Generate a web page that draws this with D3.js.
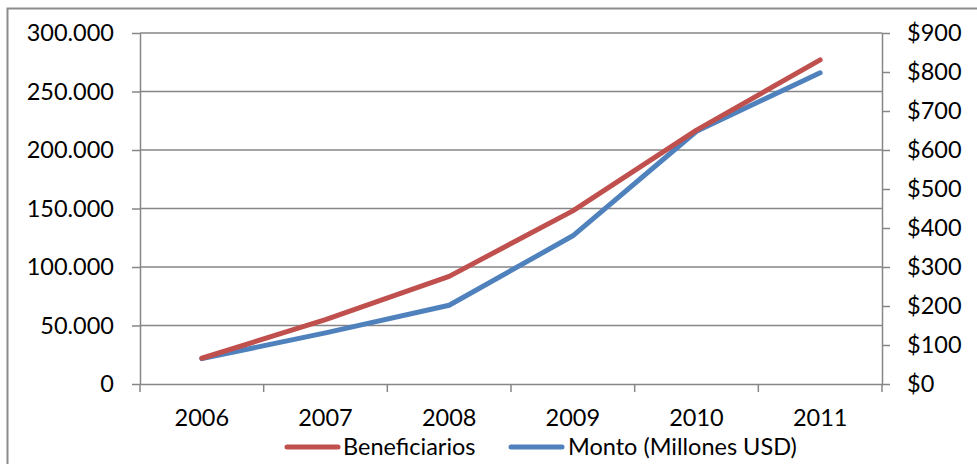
<!DOCTYPE html>
<html><head><meta charset="utf-8">
<script src="https://cdn.jsdelivr.net/npm/d3@7"></script>
<style>body{margin:0;background:#fff}svg{display:block}text{font-family:Lato,"Open Sans",sans-serif;fill:#000}</style>
</head><body><svg id="c" width="977" height="464"></svg>
<script>
const years = ["2006","2007","2008","2009","2010","2011"];
const beneficiarios = [22000, 55000, 92000, 148000, 217000, 277000];
const monto = [65, 131, 202, 380, 648, 798];
const leftTicks = [0,50000,100000,150000,200000,250000,300000];
const rightTicks = [0,100,200,300,400,500,600,700,800,900];
const seriesNames = ["Beneficiarios","Monto (Millones USD)"];
const colors = ["#C0504D","#4F81BD"];

const svg = d3.select("#c");
const L=140, R=882, T=33, B=384;
const FS = 23.5;
svg.append("rect").attr("x",7.5).attr("y",8.5).attr("width",1000).attr("height",500)
  .attr("fill","#fff").attr("stroke","#8c8c8c").attr("stroke-width",2);

const x = d3.scaleBand().domain(years).range([L,R]);
const yL = d3.scaleLinear().domain([0,300000]).range([B,T]);
const yR = d3.scaleLinear().domain([0,900]).range([B,T]);
const fmt = d => d3.format(",")(d).replace(/,/g,".");

svg.append("g").selectAll("line").data(leftTicks.slice(1)).join("line")
  .attr("x1",L).attr("x2",R).attr("y1",d=>yL(d)).attr("y2",d=>yL(d))
  .attr("stroke","#868686").attr("stroke-width",1.5);

const axisStyle = g => { g.select(".domain").attr("stroke","#868686").attr("stroke-width",1.5);
  g.selectAll(".tick line").attr("stroke","#868686").attr("stroke-width",1.5);
  g.selectAll("text").style("font-family","Lato, sans-serif").attr("font-size",FS).attr("fill","#000"); };

svg.append("g").attr("transform",`translate(${L},0)`)
  .call(d3.axisLeft(yL).tickValues(leftTicks).tickFormat(fmt).tickSizeInner(8).tickSizeOuter(0).tickPadding(18))
  .call(axisStyle);
svg.append("g").attr("transform",`translate(${R},0)`)
  .call(d3.axisRight(yR).tickValues(rightTicks).tickFormat(d=>"$"+d).tickSizeInner(8).tickSizeOuter(0).tickPadding(17))
  .call(axisStyle);
const xa = svg.append("g").attr("transform",`translate(0,${B})`)
  .call(d3.axisBottom(x).tickSize(0).tickPadding(25)).call(axisStyle);
xa.selectAll(".tick text").attr("dy","0.71em");
svg.append("g").selectAll("line").data(years.concat(["end"])).join("line")
  .attr("x1",(d,i)=>L+i*x.step()).attr("x2",(d,i)=>L+i*x.step())
  .attr("y1",B).attr("y2",B+8).attr("stroke","#868686").attr("stroke-width",1.5);

const cx = d => x(d)+x.bandwidth()/2;
const lineL = d3.line().x((d,i)=>cx(years[i])).y(d=>yL(d));
const lineR = d3.line().x((d,i)=>cx(years[i])).y(d=>yR(d));
svg.append("path").attr("d",lineR(monto)).attr("fill","none").attr("stroke",colors[1]).attr("stroke-width",5).attr("stroke-linecap","round").attr("stroke-linejoin","round");
svg.append("path").attr("d",lineL(beneficiarios)).attr("fill","none").attr("stroke",colors[0]).attr("stroke-width",5).attr("stroke-linecap","round").attr("stroke-linejoin","round");
const lg = [{x:287,tx:343},{x:511,tx:568}];
lg.forEach((p,i)=>{
  svg.append("line").attr("x1",p.x).attr("x2",p.x+51).attr("y1",447).attr("y2",447)
    .attr("stroke",colors[i]).attr("stroke-width",5).attr("stroke-linecap","round");
  svg.append("text").attr("x",p.tx).attr("y",447).attr("dy","0.36em").attr("font-size",FS).text(seriesNames[i]);
});
</script></body></html>
